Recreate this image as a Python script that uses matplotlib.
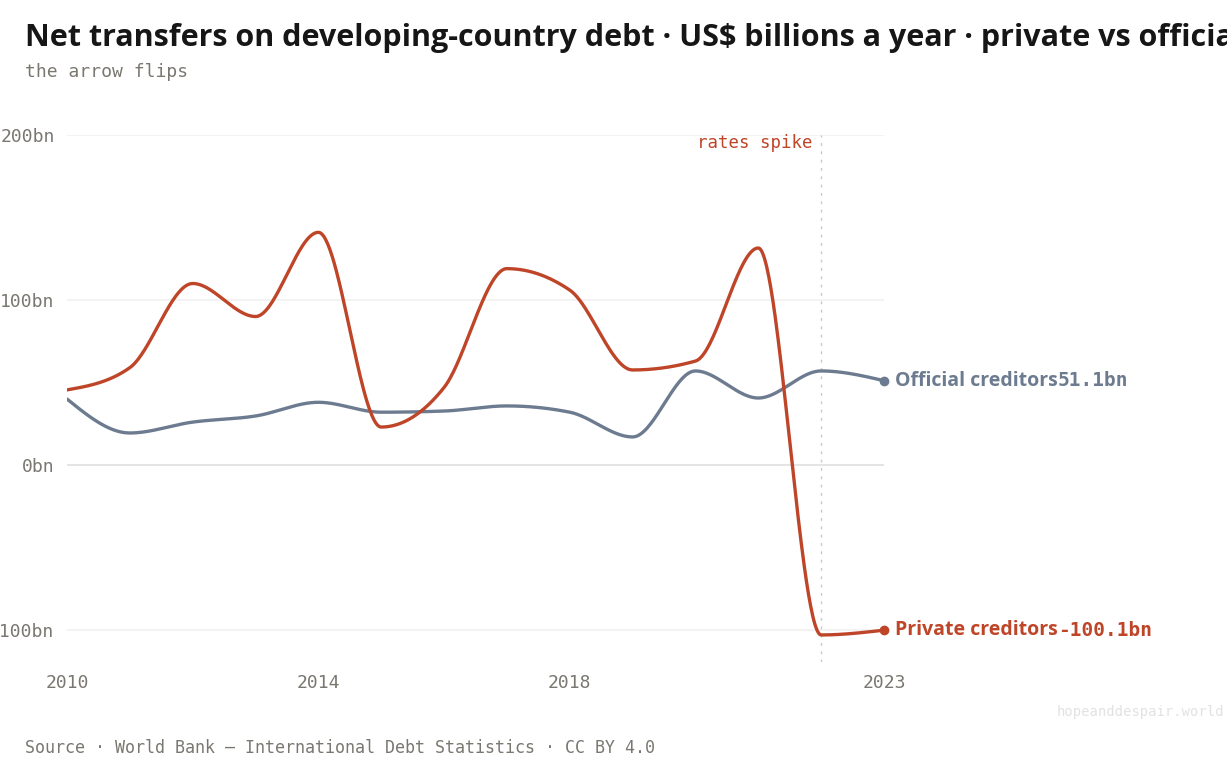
import numpy as np
import matplotlib
matplotlib.use("Agg")
import matplotlib.pyplot as plt
from matplotlib.ticker import FuncFormatter

# net transfers, US$ bn
years = [2010, 2011, 2012, 2013, 2014, 2015, 2016, 2017, 2018, 2019, 2020, 2021, 2022, 2023]
private = [45.5, 59, 110, 90, 141, 23, 47, 119, 106, 57.6, 63, 131.5, -103, -100.1]
official = [40, 19.4, 26, 29.7, 38, 32, 32.7, 35.8, 32, 17, 57, 40.6, 57, 51.1]
yticks = [-100, 0, 100, 200]
xticks = [2010, 2014, 2018, 2023]
event_year = 2022
event_label = "rates spike"

RED = "#bf4529"
SLATE = "#6c7b8f"
MUTED = "#7a7770"
MONO = "DejaVu Sans Mono"
SANS = "Open Sans"

W, H = 1227, 771


def monotone(x, y, n=60):
    # monotone cubic (same idea as d3.curveMonotoneX) so the curve never overshoots
    x = np.asarray(x, float)
    y = np.asarray(y, float)
    h = np.diff(x)
    s = np.diff(y) / h
    t = np.zeros_like(y)
    for k in range(1, len(y) - 1):
        p = (s[k - 1] * h[k] + s[k] * h[k - 1]) / (h[k - 1] + h[k])
        t[k] = (np.sign(s[k - 1]) + np.sign(s[k])) * min(abs(s[k - 1]), abs(s[k]), 0.5 * abs(p))
    t[0] = (3 * s[0] - t[1]) / 2
    t[-1] = (3 * s[-1] - t[-2]) / 2
    xs, ys = [], []
    for k in range(len(y) - 1):
        u = np.linspace(0, 1, n, endpoint=(k == len(y) - 2))
        h00 = 2 * u**3 - 3 * u**2 + 1
        h10 = u**3 - 2 * u**2 + u
        h01 = -2 * u**3 + 3 * u**2
        h11 = u**3 - u**2
        xs.append(x[k] + u * h[k])
        ys.append(h00 * y[k] + h10 * h[k] * t[k] + h01 * y[k + 1] + h11 * h[k] * t[k + 1])
    return np.concatenate(xs), np.concatenate(ys)


fig = plt.figure(figsize=(W / 100, H / 100), dpi=100)
ax = fig.add_axes([67 / W, 1 - 662 / H, (884 - 67) / W, (662 - 135) / H])
ax.set_xlim(2010, 2023)
ax.set_ylim(-119.4, 200)
for sp in ax.spines.values():
    sp.set_visible(False)

for v in yticks:
    ax.axhline(v, color="#dcdcdc" if v == 0 else "#f0f0f0", lw=1.1, zorder=0)

ax.axvline(event_year, color="#c8c8c8", lw=1, ls=(0, (2, 4)), zorder=1)
ax.text(event_year - 0.13, 195, event_label, color=RED, fontfamily=MONO,
        fontsize=12.5, ha="right", va="center")

for vals, col in [(official, SLATE), (private, RED)]:
    xs, ys = monotone(years, vals)
    ax.plot(xs, ys, color=col, lw=2.4, solid_capstyle="round", zorder=3)
    ax.plot(years[-1], vals[-1], "o", color=col, ms=6, zorder=4, clip_on=False)

ax.set_yticks(yticks)
ax.yaxis.set_major_formatter(FuncFormatter(lambda v, p: f"{v:.0f}bn"))
ax.set_xticks(xticks)
ax.tick_params(length=0, labelsize=13, labelcolor=MUTED, pad=9)
for lab in ax.get_xticklabels() + ax.get_yticklabels():
    lab.set_fontfamily(MONO)

# end-of-line labels: name in sans, value in mono
fig.canvas.draw()
renderer = fig.canvas.get_renderer()
for name, vals, col in [("Official creditors", official, SLATE),
                        ("Private creditors", private, RED)]:
    t1 = ax.annotate(name, (years[-1], vals[-1]), xytext=(8, 0), textcoords="offset points",
                     color=col, fontfamily=SANS, fontweight="bold", fontsize=14,
                     va="center", ha="left", annotation_clip=False)
    bb = t1.get_window_extent(renderer)
    ax.annotate(f"{vals[-1]:.1f}bn", (years[-1], vals[-1]),
                xytext=(8 + bb.width * 72 / fig.dpi, 0), textcoords="offset points",
                color=col, fontfamily=MONO, fontweight="bold", fontsize=14,
                va="center", ha="left", annotation_clip=False)

fig.text(25 / W, 1 - 46 / H,
         "Net transfers on developing-country debt \u00b7 US$ billions a year \u00b7 private vs official",
         fontfamily=SANS, fontweight="bold", fontsize=22, color="#161616", va="baseline")
fig.text(25 / W, 1 - 77 / H, "the arrow flips", fontfamily=MONO, fontsize=13,
         color=MUTED, va="baseline")
fig.text(25 / W, 1 - 753 / H,
         "Source \u00b7 World Bank \u2014 International Debt Statistics \u00b7 CC BY 4.0",
         fontfamily=MONO, fontsize=12, color=MUTED, va="baseline")
fig.text(1224 / W, 1 - 716 / H, "hopeanddespair.world", fontfamily=MONO, fontsize=10,
         color="#e2e2e2", ha="right", va="baseline")

fig.savefig("out.png", dpi=100)
